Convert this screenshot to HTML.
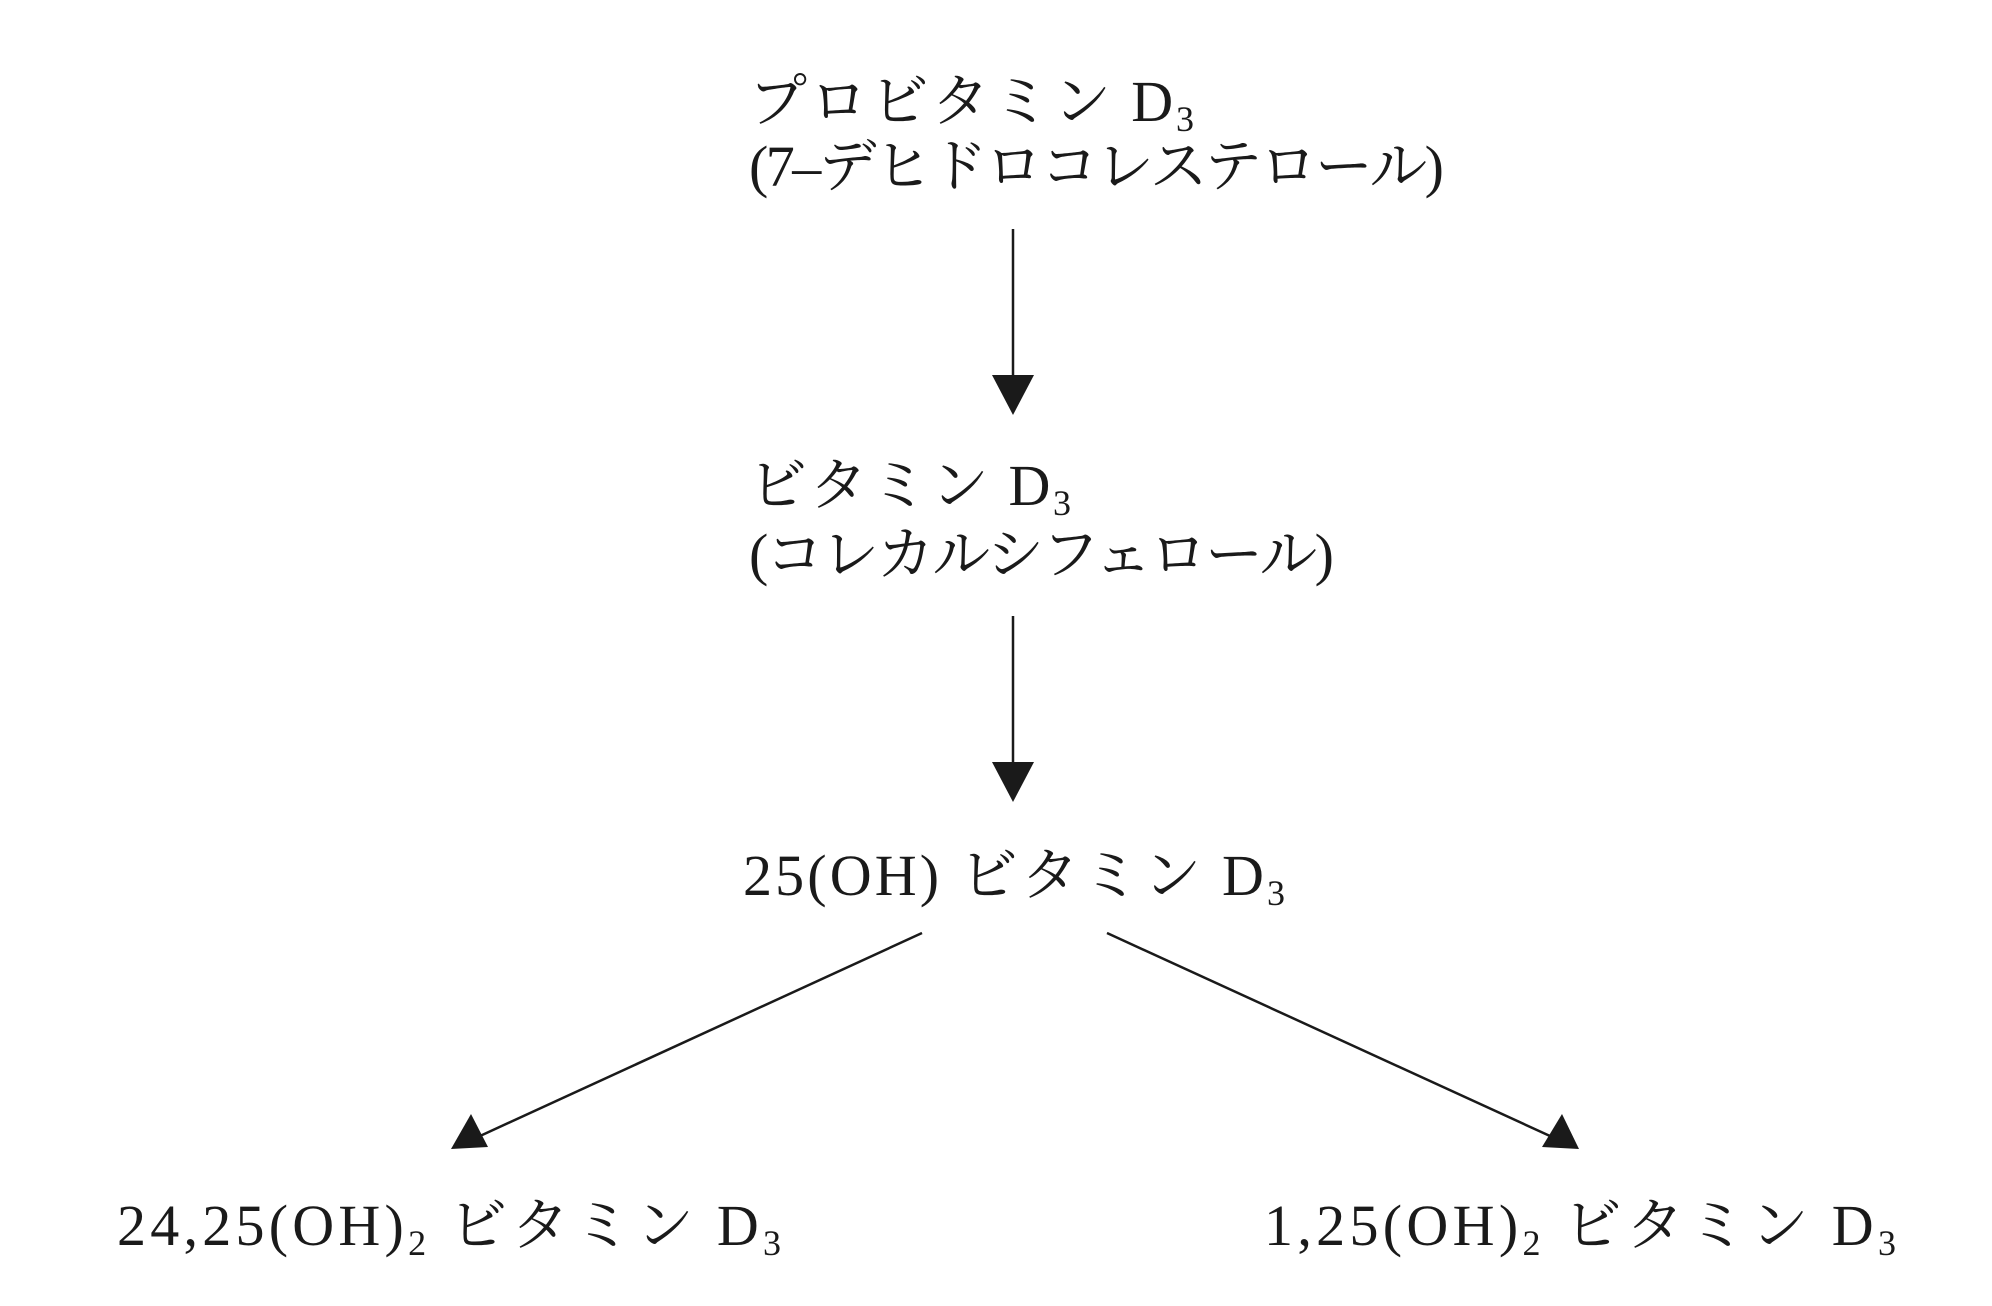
<!DOCTYPE html>
<html><head><meta charset="utf-8"><style>
html,body{margin:0;padding:0;background:#fff;}
svg{display:block;}
text{font-family:"Liberation Serif","Noto Serif CJK JP","Noto Sans CJK JP",serif;font-size:58px;fill:#1a1a1a;}
.s{font-size:36px;}
</style></head><body>
<svg width="1992" height="1306" viewBox="0 0 1992 1306" xmlns="http://www.w3.org/2000/svg">
<text x="749" y="121" textLength="445" lengthAdjust="spacing">プロビタミン D<tspan class="s" dy="10">3</tspan></text>
<text x="749" y="186" textLength="695" lengthAdjust="spacing">(7–デヒドロコレステロール)</text>
<text x="749" y="505" textLength="322" lengthAdjust="spacing">ビタミン D<tspan class="s" dy="10">3</tspan></text>
<text x="749" y="574" textLength="585" lengthAdjust="spacing">(コレカルシフェロール)</text>
<text x="743" y="895" textLength="542" lengthAdjust="spacing">25(OH) ビタミン D<tspan class="s" dy="10">3</tspan></text>
<text x="117" y="1245" textLength="664" lengthAdjust="spacing">24,25(OH)<tspan class="s" dy="10">2</tspan><tspan dy="-10"> ビタミン D</tspan><tspan class="s" dy="10">3</tspan></text>
<text x="1264" y="1245" textLength="632" lengthAdjust="spacing">1,25(OH)<tspan class="s" dy="10">2</tspan><tspan dy="-10"> ビタミン D</tspan><tspan class="s" dy="10">3</tspan></text>
<g stroke="#1a1a1a" stroke-width="2.5" fill="none">
<line x1="1013" y1="229" x2="1013" y2="385"/>
<line x1="1013" y1="616" x2="1013" y2="772"/>
<line x1="922" y1="933" x2="480" y2="1136"/>
<line x1="1107" y1="933" x2="1550" y2="1136"/>
</g>
<g fill="#1a1a1a">
<polygon points="992,375 1034,375 1013,415"/>
<polygon points="992,762 1034,762 1013,802"/>
<polygon points="451,1149 471,1114 488,1147"/>
<polygon points="1579,1149 1562,1114 1542,1147"/>
</g>
</svg>
</body></html>
